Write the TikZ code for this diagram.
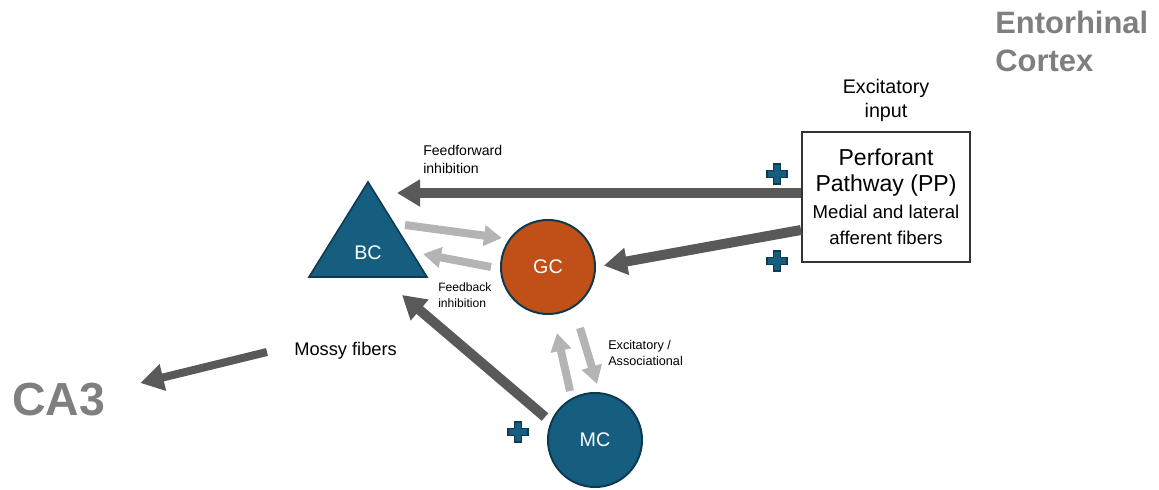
\documentclass[tikz,border=0pt]{standalone}
\usepackage{fontspec}
\setmainfont{Liberation Sans}
\usetikzlibrary{arrows.meta,calc}
\definecolor{cellblue}{RGB}{22,94,128}
\definecolor{celledge}{RGB}{14,58,80}
\definecolor{gcorange}{RGB}{192,80,24}
\definecolor{darkarrow}{RGB}{89,89,89}
\definecolor{lightarrow}{RGB}{180,180,180}
\definecolor{regiongray}{RGB}{127,127,127}

\begin{document}
\begin{tikzpicture}[x=0.025cm,y=-0.025cm,
	cell/.style={circle,draw=celledge,line width=0.05cm,minimum size=2.35cm,inner sep=0,text=white,font=\fontsize{14}{16}\selectfont},
	darrow/.style={darkarrow,line width=0.25cm,-{Triangle[width=0.65cm,length=0.58cm]}},
	larrow/.style={lightarrow,line width=0.2cm,-{Triangle[width=0.5cm,length=0.45cm]}},
	lbl/.style={inner sep=0,align=left,anchor=west},
	region/.style={inner sep=0,align=left,anchor=west,text=regiongray},
	plussign/.pic={\filldraw[fill=cellblue,draw=celledge,line width=0.04cm] (-10,-3.5) -- (-3.5,-3.5) -- (-3.5,-10) -- (3.5,-10) -- (3.5,-3.5) -- (10,-3.5) -- (10,3.5) -- (3.5,3.5) -- (3.5,10) -- (-3.5,10) -- (-3.5,3.5) -- (-10,3.5) -- cycle;}]
	\useasboundingbox (0,0) rectangle (1159,490);
	% cells
	\filldraw[fill=cellblue,draw=celledge,line width=0.04cm] (309,277) -- (368,182) -- (427,277) -- cycle;
	\node (bc) at (368,253) [text=white,font=\fontsize{14}{16}\selectfont] {BC};
	\node (gc) at (548,267) [cell,fill=gcorange] {GC};
	\node (mc) at (595,440) [cell,fill=cellblue] {MC};
	\node (pp) at (886,197) [draw=black!80,line width=0.05cm,minimum width=4.2cm,minimum height=3.25cm,align=center,inner sep=0,font=\fontsize{16.4}{18.5}\selectfont]
		{Perforant\\Pathway (PP)\\[1pt]
		 \fontsize{13.2}{17}\selectfont Medial and lateral\\
		 \fontsize{13.2}{17}\selectfont afferent fibers};
	% labels
	\node (excin) at (886,100) [inner sep=0,align=center,font=\fontsize{14}{17}\selectfont] {Excitatory\\input};
	\node (ff) at (423,159) [lbl,font=\fontsize{10}{12.8}\selectfont] {Feedforward\\inhibition};
	\node (fb) at (438,295) [lbl,font=\fontsize{8.6}{11.4}\selectfont] {Feedback\\inhibition};
	\node (exas) at (608,353) [lbl,font=\fontsize{9}{11.4}\selectfont] {Excitatory /\\Associational};
	\node (mossy) at (294,351) [lbl,font=\fontsize{13}{15}\selectfont] {Mossy fibers};
	\node (ent) at (995,41) [region,font=\fontsize{22}{27}\selectfont\bfseries] {Entorhinal\\Cortex};
	\node (ca3) at (12,400) [region,font=\fontsize{33}{36}\selectfont\bfseries] {CA3};
	% connections
	\coordinate (bcff) at (397,193);
	\coordinate (bcout) at (405,225);
	\coordinate (bcfb) at (423,254);
	\coordinate (bcmc) at (402,295);
	\draw[darrow] ($(pp.west)+(0,-4)$) -- (bcff);
	\draw[darrow,shorten >=0.2cm] ($(pp.west)+(0,33)$) -- (gc.east);
	\draw[larrow] (bcout) -- ($(gc)+(-46,-29)$);
	\draw[larrow] ($(gc.west)+(-9,0)$) -- (bcfb);
	\draw[larrow] ($(mc.north)+(-25,-1)$) -- ($(gc.south)+(9,18)$);
	\draw[larrow] ($(gc.south)+(32,13)$) -- ($(mc.north)+(2,-8)$);
	\draw[darrow] ($(mc)+(-50,-23)$) -- (bcmc);
	\draw[darrow,line width=0.2cm] ($(mossy.west)+(-27,1)$) -- ($(ca3.east)+(35,-17)$);
	% excitatory marks
	\pic at (777,174) {plussign};
	\pic at (777,261) {plussign};
	\pic at (518,432) {plussign};
\end{tikzpicture}
\end{document}
